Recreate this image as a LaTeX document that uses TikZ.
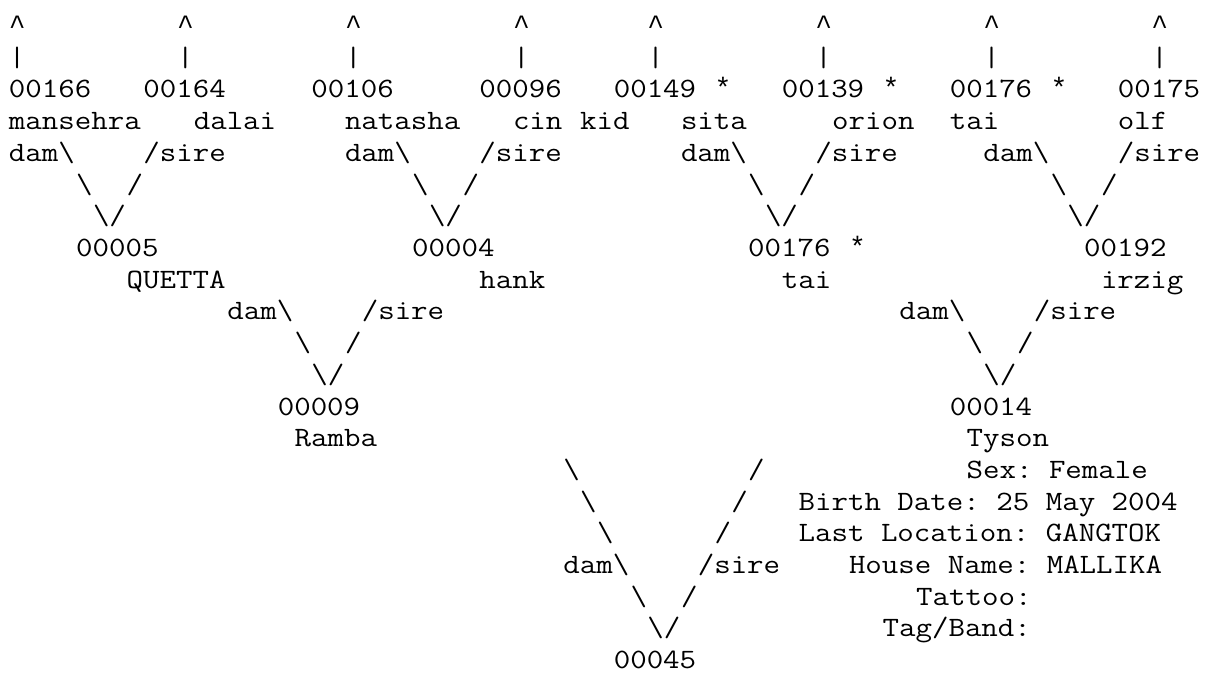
\documentclass[tikz,border=0pt]{standalone}
\usepackage{fontspec}
\newfontfamily\asciifont[FakeStretch=1.1429]{Latin Modern Mono}
\newfontfamily\symfont{Liberation Mono}
\tikzset{
  tok/.style={anchor=base west, inner sep=0pt, outer sep=0pt, text=black,
    font=\asciifont\fontsize{28}{31.7}\selectfont\frenchspacing},
  symtok/.style={tok, font=\symfont\fontsize{28}{31.7}\selectfont}
}
\newcommand{\tok}[4]{\node[tok] (#1) at ({9+16.8*#2},{-34.6-31.7*(#3-1)}) {#4};}
\newcommand{\stok}[4]{\node[symtok] (#1) at ({9+16.8*#2},{-34.6-31.7*(#3-1)}) {#4};}
\begin{document}
\begin{tikzpicture}[x=1pt,y=1pt]
\useasboundingbox (0,0) rectangle (1213,-674);
% line 1: carets
\stok{ca}{0}{1}{\textasciicircum}
\stok{cb}{10}{1}{\textasciicircum}
\stok{cc}{20}{1}{\textasciicircum}
\stok{cd}{30}{1}{\textasciicircum}
\stok{ce}{38}{1}{\textasciicircum}
\stok{cf}{48}{1}{\textasciicircum}
\stok{cg}{58}{1}{\textasciicircum}
\stok{ch}{68}{1}{\textasciicircum}
% line 2: bars
\tok{ba}{0}{2}{|}
\tok{bb}{10}{2}{|}
\tok{bc}{20}{2}{|}
\tok{bd}{30}{2}{|}
\tok{be}{38}{2}{|}
\tok{bf}{48}{2}{|}
\tok{bg}{58}{2}{|}
\tok{bh}{68}{2}{|}
% line 3: ids
\tok{n166}{0}{3}{00166}
\tok{n164}{8}{3}{00164}
\tok{n106}{18}{3}{00106}
\tok{n096}{28}{3}{00096}
\tok{n149}{36}{3}{00149}
\stok{s149}{42}{3}{*}
\tok{n139}{46}{3}{00139}
\stok{s139}{52}{3}{*}
\tok{n176a}{56}{3}{00176}
\stok{s176a}{62}{3}{*}
\tok{n175}{66}{3}{00175}
% line 4: names
\tok{mansehra}{0}{4}{mansehra}
\tok{dalai}{11}{4}{dalai}
\tok{natasha}{20}{4}{natasha}
\tok{cin}{30}{4}{cin}
\tok{kid}{34}{4}{kid}
\tok{sita}{40}{4}{sita}
\tok{orion}{49}{4}{orion}
\tok{taia}{56}{4}{tai}
\tok{olf}{66}{4}{olf}
% line 5
\tok{da1}{0}{5}{dam\textbackslash}
\tok{si1}{8}{5}{/sire}
\tok{da2}{20}{5}{dam\textbackslash}
\tok{si2}{28}{5}{/sire}
\tok{da3}{40}{5}{dam\textbackslash}
\tok{si3}{48}{5}{/sire}
\tok{da4}{58}{5}{dam\textbackslash}
\tok{si4}{66}{5}{/sire}
% line 6
\tok{l6a}{4}{6}{\textbackslash}
\tok{r6a}{7}{6}{/}
\tok{l6b}{24}{6}{\textbackslash}
\tok{r6b}{27}{6}{/}
\tok{l6c}{44}{6}{\textbackslash}
\tok{r6c}{47}{6}{/}
\tok{l6d}{62}{6}{\textbackslash}
\tok{r6d}{65}{6}{/}
% line 7
\tok{v7a}{5}{7}{\textbackslash/}
\tok{v7b}{25}{7}{\textbackslash/}
\tok{v7c}{45}{7}{\textbackslash/}
\tok{v7d}{63}{7}{\textbackslash/}
% line 8
\tok{n005}{4}{8}{00005}
\tok{n004}{24}{8}{00004}
\tok{n176b}{44}{8}{00176}
\stok{s176b}{50}{8}{*}
\tok{n192}{64}{8}{00192}
% line 9
\tok{quetta}{7}{9}{QUETTA}
\tok{hank}{28}{9}{hank}
\tok{taib}{46}{9}{tai}
\tok{irzig}{65}{9}{irzig}
% line 10
\tok{da5}{13}{10}{dam\textbackslash}
\tok{si5}{21}{10}{/sire}
\tok{da6}{53}{10}{dam\textbackslash}
\tok{si6}{61}{10}{/sire}
% line 11
\tok{l11a}{17}{11}{\textbackslash}
\tok{r11a}{20}{11}{/}
\tok{l11b}{57}{11}{\textbackslash}
\tok{r11b}{60}{11}{/}
% line 12
\tok{v12a}{18}{12}{\textbackslash/}
\tok{v12b}{58}{12}{\textbackslash/}
% line 13
\tok{n009}{16}{13}{00009}
\tok{n014}{56}{13}{00014}
% line 14
\tok{ramba}{17}{14}{Ramba}
\tok{tyson}{57}{14}{Tyson}
% line 15
\tok{l15}{33}{15}{\textbackslash}
\tok{r15}{44}{15}{/}
\tok{sex}{57}{15}{Sex: Female}
% line 16
\tok{l16}{34}{16}{\textbackslash}
\tok{r16}{43}{16}{/}
\tok{birth}{47}{16}{Birth Date: 25 May 2004}
% line 17
\tok{l17}{35}{17}{\textbackslash}
\tok{r17}{42}{17}{/}
\tok{loc}{47}{17}{Last Location: GANGTOK}
% line 18
\tok{da7}{33}{18}{dam\textbackslash}
\tok{si7}{41}{18}{/sire}
\tok{house}{50}{18}{House Name: MALLIKA}
% line 19
\tok{l19}{37}{19}{\textbackslash}
\tok{r19}{40}{19}{/}
\tok{tattoo}{54}{19}{Tattoo:}
% line 20
\tok{v20}{38}{20}{\textbackslash/}
\tok{tag}{52}{20}{Tag/Band:}
% line 21
\tok{n045}{36}{21}{00045}
\end{tikzpicture}
\end{document}
